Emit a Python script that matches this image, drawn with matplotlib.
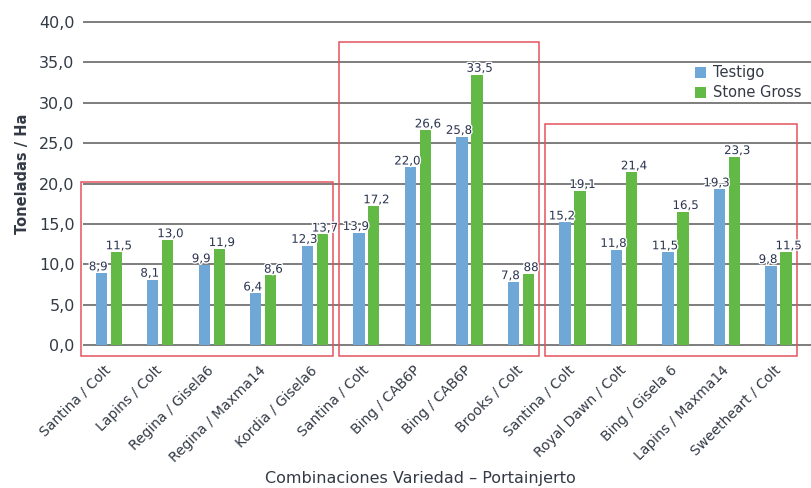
import matplotlib.pyplot as plt
import matplotlib.patheffects as pe
from matplotlib.patches import Rectangle
import numpy as np

combinaciones = ["Santina / Colt", "Lapins / Colt", "Regina / Gisela6", "Regina / Maxma14",
                 "Kordia / Gisela6", "Santina / Colt", "Bing / CAB6P", "Bing / CAB6P",
                 "Brooks / Colt", "Santina / Colt", "Royal Dawn / Colt", "Bing / Gisela 6",
                 "Lapins / Maxma14", "Sweetheart / Colt"]
testigo = [8.9, 8.1, 9.9, 6.4, 12.3, 13.9, 22.0, 25.8, 7.8, 15.2, 11.8, 11.5, 19.3, 9.8]
stone_gross = [11.5, 13.0, 11.9, 8.6, 13.7, 17.2, 26.6, 33.5, 8.8, 19.1, 21.4, 16.5, 23.3, 11.5]

# etiquetas tal como aparecen (la de Brooks sale sin coma en el original)
etiq_testigo = [f"{v:.1f}".replace(".", ",") for v in testigo]
etiq_stone = [f"{v:.1f}".replace(".", ",") for v in stone_gross]
etiq_stone[8] = "88"

# grupos enmarcados: (primer indice, ultimo indice, altura del marco)
grupos = [(0, 4, 20.2), (5, 8, 37.5), (9, 13, 27.4)]

AZUL = "#6FA8D6"
VERDE = "#62B946"
ROJO = "#E5535C"
TEXTO = "#333A45"
NUMS = "#2B3550"

plt.rcParams["font.family"] = ["DejaVu Sans"]

fig = plt.figure(figsize=(8.11, 4.88), dpi=100)
ax = fig.add_axes([0.1023, 0.2602, 0.8977, 0.711])

x = np.arange(len(combinaciones))
w = 0.22
off = 0.145
ax.bar(x - off, testigo, w, color=AZUL, label="Testigo", zorder=3)
ax.bar(x + off, stone_gross, w, color=VERDE, label="Stone Gross", zorder=3)

efecto = [pe.withStroke(linewidth=2, foreground="white")]
for xi, v, t in zip(x, testigo, etiq_testigo):
    ax.text(xi - off - 0.06, v + 0.35, t, ha="center", va="baseline", fontsize=8.5,
            color=NUMS, path_effects=efecto, zorder=5)
for xi, v, t in zip(x, stone_gross, etiq_stone):
    ax.text(xi + off + 0.05, v + 0.35, t, ha="center", va="baseline", fontsize=8.5,
            color=NUMS, path_effects=efecto, zorder=5)

for ini, fin, alto in grupos:
    ax.add_patch(Rectangle((ini - 0.54, -1.4), fin - ini + 0.89, alto + 1.4,
                           fill=False, edgecolor=ROJO, linewidth=1.1, zorder=4,
                           clip_on=False))

ax.set_xlim(-0.5, 13.63)
ax.set_ylim(-2, 41)
ax.set_yticks(np.arange(0, 41, 5))
ax.set_yticklabels([f"{v:.1f}".replace(".", ",") for v in np.arange(0, 41, 5)],
                   fontsize=11.5, color=TEXTO)
ax.yaxis.grid(True, color="#5A5A5A", linewidth=1.1, zorder=0)
ax.set_axisbelow(True)
for s in ax.spines.values():
    s.set_visible(False)
ax.tick_params(axis="both", length=0)
ax.tick_params(axis="y", pad=6)

ax.set_xticks(x)
ax.set_xticklabels(combinaciones, rotation=45, ha="right", va="center",
                   rotation_mode="anchor", fontsize=10, color=TEXTO)
ax.tick_params(axis="x", pad=5)

ax.set_ylabel("Toneladas / Ha", fontsize=10.5, fontweight="bold", color=TEXTO)
ax.yaxis.set_label_coords(-0.073, 0.54)
ax.set_xlabel("Combinaciones Variedad – Portainjerto", fontsize=11.5, color=TEXTO)
ax.xaxis.set_label_coords(0.463, -0.318)

ax.legend(loc="upper right", bbox_to_anchor=(1.005, 0.89), frameon=False, fontsize=10.5,
          handlelength=0.75, handleheight=0.75, handletextpad=0.5, labelspacing=0.35,
          labelcolor=TEXTO)

plt.savefig("out.png", dpi=100)
